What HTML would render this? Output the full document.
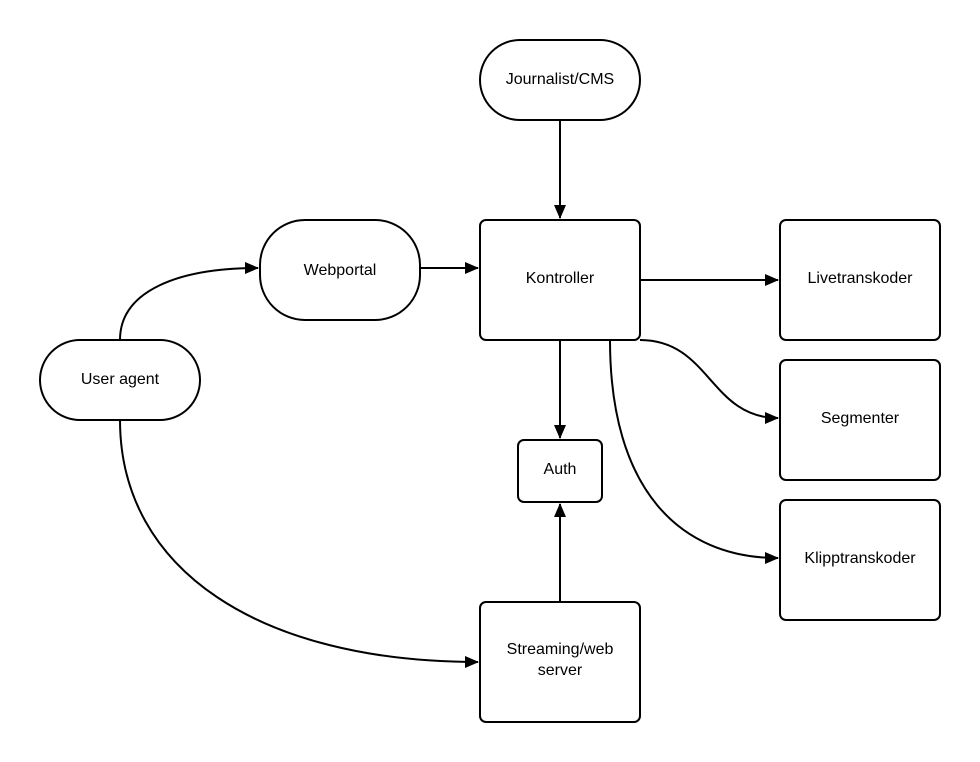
<!DOCTYPE html>
<html><head><meta charset="utf-8"><style>
html,body{margin:0;padding:0;background:#fff;}
svg{display:block;}
text{font-family:"Liberation Sans",sans-serif;font-size:16px;fill:#000;text-anchor:middle;}
</style></head><body>
<svg width="980" height="762" viewBox="0 0 980 762" xmlns="http://www.w3.org/2000/svg">
<defs>
<marker id="a" markerWidth="14" markerHeight="12" refX="13" refY="6" orient="auto" markerUnits="userSpaceOnUse">
<path d="M0,0 L14,6 L0,12 z" fill="#000"/>
</marker>
</defs>
<g fill="#fff" stroke="#000" stroke-width="2">
<rect x="480" y="40" width="160" height="80" rx="40"/>
<rect x="480" y="220" width="160" height="120" rx="6"/>
<rect x="260" y="220" width="160" height="100" rx="45"/>
<rect x="40" y="340" width="160" height="80" rx="40"/>
<rect x="780" y="220" width="160" height="120" rx="6"/>
<rect x="780" y="360" width="160" height="120" rx="6"/>
<rect x="780" y="500" width="160" height="120" rx="6"/>
<rect x="518" y="440" width="84" height="62" rx="6"/>
<rect x="480" y="602" width="160" height="120" rx="6"/>
</g>
<g fill="none" stroke="#000" stroke-width="2" marker-end="url(#a)">
<path d="M560,120 L560,218"/>
<path d="M420,268 L478,268"/>
<path d="M640,280 L778,280"/>
<path d="M560,340 L560,438"/>
<path d="M560,602 L560,504"/>
<path d="M120,340 C120,290 180,268 258,268"/>
<path d="M120,420 C120,570 260,662 478,662"/>
<path d="M640,340 C710,340 710,418 778,418"/>
<path d="M610,340 C610,490 680,558 778,558"/>
</g>
<text x="560" y="84">Journalist/CMS</text>
<text x="560" y="283">Kontroller</text>
<text x="340" y="275">Webportal</text>
<text x="120" y="384">User agent</text>
<text x="860" y="283">Livetranskoder</text>
<text x="860" y="423">Segmenter</text>
<text x="860" y="563">Klipptranskoder</text>
<text x="560" y="474">Auth</text>
<text x="560" y="654">Streaming/web</text>
<text x="560" y="675">server</text>
</svg>
</body></html>
